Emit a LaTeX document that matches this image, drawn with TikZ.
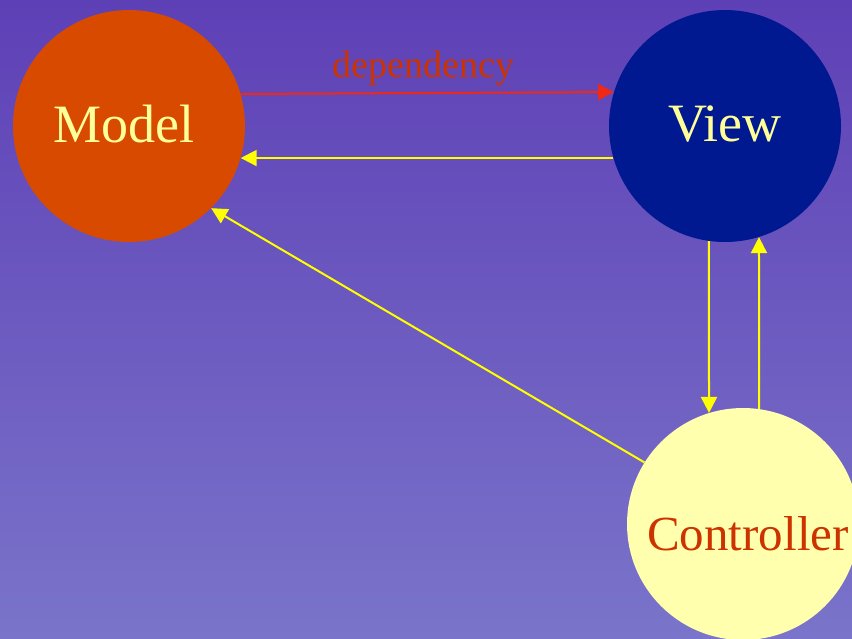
\documentclass[tikz,border=0pt]{standalone}
\usepackage{fontspec}
\setmainfont{Liberation Serif}
\usetikzlibrary{arrows.meta}
\definecolor{bgtop}{RGB}{94,64,182}
\definecolor{bgbottom}{RGB}{122,116,202}
\definecolor{modelfill}{RGB}{216,74,0}
\definecolor{viewfill}{RGB}{0,24,144}
\definecolor{ctrlfill}{RGB}{255,255,174}
\definecolor{paletext}{RGB}{255,255,153}
\definecolor{rusttext}{RGB}{204,51,0}
\definecolor{deparrow}{RGB}{240,40,24}
\definecolor{flowyellow}{RGB}{255,255,0}
\tikzset{
  bubble/.style={circle, minimum size=232pt, inner sep=0pt},
  bigtext/.style={font=\fontsize{54}{60}\selectfont},
  flow/.style={draw=flowyellow, line width=2pt,
    -{Triangle[length=16pt,width=16pt]}},
  depflow/.style={draw=deparrow, line width=2pt,
    -{Triangle[length=16pt,width=16pt]}},
}
\begin{document}
\begin{tikzpicture}[x=1pt,y=-1pt]
  \useasboundingbox (0,0) rectangle (852,638);
  \clip (0,0) rectangle (852,638);
  % background gradient
  \shade[top color=bgtop, bottom color=bgbottom] (0,0) rectangle (852,638);

  % the three parts
  \node[bubble, fill=modelfill,
        label={[bigtext, text=paletext, xshift=-5pt, yshift=2pt]center:Model}]
    (model) at (129,126) {};
  \node[bubble, fill=viewfill,
        label={[bigtext, text=paletext, yshift=2pt]center:View}]
    (view) at (725,126) {};
  \node[bubble, fill=ctrlfill,
        label={[text=rusttext, font=\fontsize{49}{56}\selectfont,
                yshift=-10pt, xshift=5pt]center:Controller}]
    (ctrl) at (743,524) {};

  % dependency label
  \node[anchor=base, text=rusttext, font=\fontsize{38}{44}\selectfont]
    (deplabel) at (423.5,77) {dependency};

  % connectors
  \draw[depflow] (model.16.5) -- (view.163.5);
  \draw[flow] (view.196.5) -- (model.-16.5);
  \draw[flow] (view.-98) -- (ctrl.107);
  \draw[flow] (ctrl.82) -- (view.-73);
  \draw[flow] (ctrl.148) -- (model.-45);
\end{tikzpicture}
\end{document}
